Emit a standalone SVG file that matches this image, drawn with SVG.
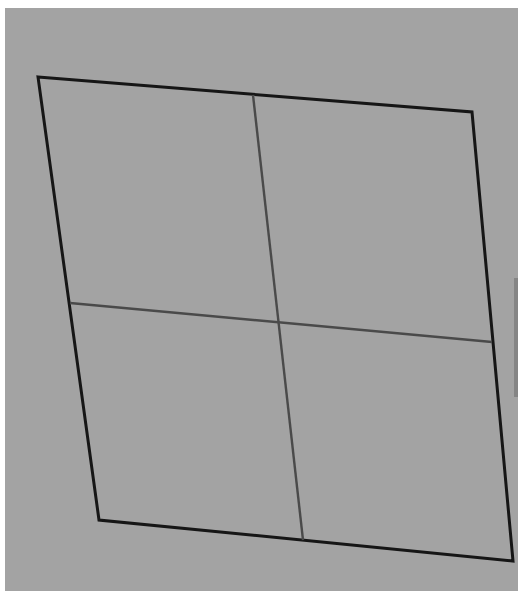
<svg xmlns="http://www.w3.org/2000/svg" width="518" height="591" viewBox="0 0 518 591">
<style>
.outer{fill:none;stroke:#161616;stroke-width:3;stroke-linejoin:miter}
.inner{fill:none;stroke:#4a4a4a;stroke-width:2.4}
</style>
<rect x="0" y="0" width="518" height="591" fill="#ffffff"/>
<rect x="5" y="8" width="513" height="583" fill="#a3a3a3"/>
<rect x="514" y="278" width="4" height="119" fill="#858585"/>
<g id="frame">
<polygon class="outer" points="38,77 472,112 513,561 99,520"/>
</g>
<g id="connectors">
<line class="inner" x1="253" y1="95" x2="303" y2="540"/>
<line class="inner" x1="70" y1="303" x2="492" y2="342"/>
</g>
</svg>
